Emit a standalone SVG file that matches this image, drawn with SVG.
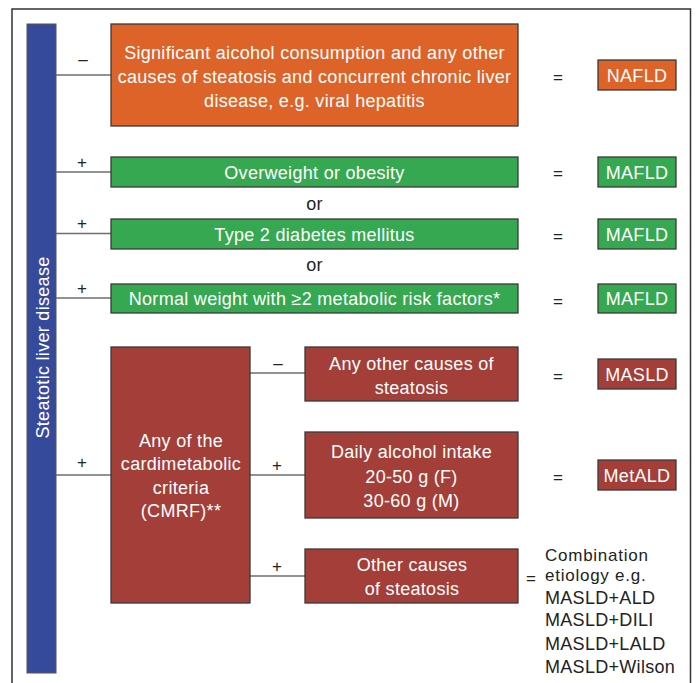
<svg xmlns="http://www.w3.org/2000/svg" width="696" height="683" viewBox="0 0 696 683">
<style>
text{font-family:"Liberation Sans",Arial,sans-serif;font-size:18px;letter-spacing:0.3px}
.w{fill:#fff;text-anchor:middle}
.k{fill:#222}
.c{font-size:17px;letter-spacing:0.75px}
.s{fill:#222;font-size:17px;text-anchor:middle;letter-spacing:0}
.box{stroke:#3a3a3a;stroke-width:1.3}
.or{fill:#DE6329}
.gr{fill:#36A852}
.rd{fill:#A33E39}
.ln{stroke:#6e6e6e;stroke-width:1.5;fill:none}
</style>
<rect x="12" y="9" width="678.5" height="700" fill="none" stroke="#333" stroke-width="1.5"/>
<g id="bar">
<rect x="27" y="24" width="29" height="649" fill="#364A9B" stroke="#555" stroke-width="1"/>
<text class="w" transform="translate(48.5,347.5) rotate(-90)">Steatotic liver disease</text>
</g>
<g id="connectors">
<line class="ln" x1="56" y1="75" x2="111" y2="75"/>
<line class="ln" x1="56" y1="172" x2="111" y2="172"/>
<line class="ln" x1="56" y1="233.5" x2="111" y2="233.5"/>
<line class="ln" x1="56" y1="298" x2="111" y2="298"/>
<line class="ln" x1="56" y1="475" x2="111" y2="475"/>
<line class="ln" x1="250" y1="373" x2="305" y2="373"/>
<line class="ln" x1="250" y1="475" x2="305" y2="475"/>
<line class="ln" x1="250" y1="576" x2="305" y2="576"/>
</g>
<g id="signs">
<text class="s" x="83" y="65">–</text>
<text class="s" x="82" y="167.5">+</text>
<text class="s" x="82" y="228.5">+</text>
<text class="s" x="82" y="293.5">+</text>
<text class="s" x="82" y="467.5">+</text>
<text class="s" x="278" y="369">–</text>
<text class="s" x="277" y="471">+</text>
<text class="s" x="277" y="572">+</text>
<text class="s" x="558" y="82.5">=</text>
<text class="s" x="558" y="179">=</text>
<text class="s" x="558" y="241.5">=</text>
<text class="s" x="558" y="306.5">=</text>
<text class="s" x="558" y="381.5">=</text>
<text class="s" x="558" y="482.5">=</text>
<text class="s" x="531" y="583.5">=</text>
<text class="k" x="314.5" y="210" text-anchor="middle">or</text>
<text class="k" x="314.5" y="270.5" text-anchor="middle">or</text>
</g>
<g id="nafld-cause">
<rect class="box or" x="111" y="24" width="407" height="102"/>
<text class="w" x="314.5" y="58.5">Significant aicohol consumption and any other</text>
<text class="w" x="314.5" y="82.5">causes of steatosis and concurrent chronic liver</text>
<text class="w" x="314.5" y="106.5">disease, e.g. viral hepatitis</text>
</g>
<g id="nafld">
<rect class="box or" x="598" y="60" width="78" height="30"/>
<text class="w" x="637" y="81.5">NAFLD</text>
</g>
<g id="overweight">
<rect class="box gr" x="111" y="157" width="407" height="30"/>
<text class="w" x="314.5" y="178.5">Overweight or obesity</text>
</g>
<g id="mafld1">
<rect class="box gr" x="598" y="157" width="78" height="30"/>
<text class="w" x="637" y="178.5">MAFLD</text>
</g>
<g id="diabetes">
<rect class="box gr" x="111" y="219" width="407" height="30"/>
<text class="w" x="314.5" y="240.5">Type 2 diabetes mellitus</text>
</g>
<g id="mafld2">
<rect class="box gr" x="598" y="219" width="78" height="30"/>
<text class="w" x="637" y="240.5">MAFLD</text>
</g>
<g id="normal">
<rect class="box gr" x="111" y="284" width="407" height="29"/>
<text class="w" x="314.5" y="304.5">Normal weight with ≥2 metabolic risk factors*</text>
</g>
<g id="mafld3">
<rect class="box gr" x="598" y="284" width="78" height="29"/>
<text class="w" x="637" y="304.5">MAFLD</text>
</g>
<g id="cmrf">
<rect class="box rd" x="111" y="347" width="139" height="256"/>
<text class="w" x="181" y="446.5">Any of the</text>
<text class="w" x="181" y="470">cardimetabolic</text>
<text class="w" x="181" y="494">criteria</text>
<text class="w" x="181" y="516.5">(CMRF)**</text>
</g>
<g id="other-any">
<rect class="box rd" x="305" y="347" width="213" height="54"/>
<text class="w" x="411.5" y="369.5">Any other causes of</text>
<text class="w" x="411.5" y="393.5">steatosis</text>
</g>
<g id="masld">
<rect class="box rd" x="598" y="359" width="78" height="30"/>
<text class="w" x="637" y="380.5">MASLD</text>
</g>
<g id="alcohol">
<rect class="box rd" x="305" y="432" width="213" height="86"/>
<text class="w" x="411.5" y="458">Daily alcohol intake</text>
<text class="w" x="411.5" y="483">20-50 g (F)</text>
<text class="w" x="411.5" y="506.5">30-60 g (M)</text>
</g>
<g id="metald">
<rect class="box rd" x="598" y="460" width="78" height="30"/>
<text class="w" x="637" y="481.5">MetALD</text>
</g>
<g id="other">
<rect class="box rd" x="305" y="549" width="213" height="54"/>
<text class="w" x="412" y="571">Other causes</text>
<text class="w" x="412" y="594.5">of steatosis</text>
</g>
<g id="combination">
<text class="k c" x="545" y="561">Combination</text>
<text class="k c" x="545" y="580.5">etiology e.g.</text>
<text class="k" x="545" y="603.5">MASLD+ALD</text>
<text class="k" x="545" y="626">MASLD+DILI</text>
<text class="k" x="545" y="649.5">MASLD+LALD</text>
<text class="k" x="545" y="672.5">MASLD+Wilson</text>
</g>
</svg>
